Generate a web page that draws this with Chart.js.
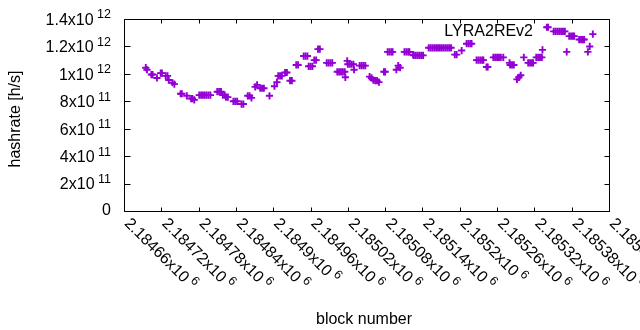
<!DOCTYPE html>
<html><head><meta charset="utf-8">
<script src="https://cdn.jsdelivr.net/npm/chart.js@4/dist/chart.umd.min.js"></script>
<style>html,body{margin:0;padding:0;background:#fff}#c{display:block}</style>
</head><body>
<canvas id="c" width="640" height="330"></canvas>
<script>
// ---- data ----
const seriesName = 'LYRA2REv2';
const blockNumbers = [
  2184695, 2184697, 2184704, 2184706, 2184713, 2184719, 2184721, 2184727, 2184730, 2184732,
  2184738, 2184741, 2184751, 2184753, 2184761, 2184768, 2184770, 2184773,
  2184781, 2184784, 2184787, 2184790, 2184793, 2184796, 2184799,
  2184810, 2184813, 2184816, 2184819, 2184822, 2184824, 2184827,
  2184836, 2184839, 2184842, 2184849, 2184852, 2184859, 2184862, 2184865,
  2184871, 2184874, 2184879, 2184882, 2184885, 2184894, 2184902, 2184906,
  2184908, 2184911, 2184914, 2184919, 2184922, 2184927, 2184930, 2184937, 2184940,
  2184949, 2184952, 2184955, 2184957, 2184960, 2184963, 2184966, 2184969, 2184972, 2184975,
  2184986, 2184989, 2184992, 2184995,
  2185003, 2185006, 2185009, 2185012, 2185015, 2185016,
  2185019, 2185020, 2185023, 2185026, 2185029, 2185030,
  2185039, 2185042, 2185045, 2185048,
  2185055, 2185058, 2185061, 2185064, 2185067, 2185070,
  2185078, 2185080, 2185084, 2185087, 2185090, 2185092,
  2185098, 2185101, 2185104, 2185111, 2185114, 2185117, 2185119,
  2185125, 2185126, 2185129, 2185132, 2185135, 2185138, 2185141,
  2185150, 2185153, 2185156, 2185159, 2185162, 2185165, 2185168, 2185171, 2185174, 2185177, 2185180, 2185183, 2185186,
  2185192, 2185195, 2185203, 2185211, 2185214, 2185217, 2185219,
  2185227, 2185230, 2185233, 2185236, 2185238, 2185243, 2185245,
  2185254, 2185257, 2185260, 2185263, 2185266, 2185270,
  2185280, 2185281, 2185284, 2185287, 2185292, 2185295, 2185298, 2185303,
  2185310, 2185313, 2185316, 2185318, 2185323, 2185326, 2185329, 2185332, 2185333,
  2185340, 2185342, 2185351, 2185354, 2185357, 2185360, 2185363, 2185366, 2185369, 2185372,
  2185376, 2185379, 2185382, 2185384, 2185392, 2185395, 2185398, 2185400,
  2185406, 2185409, 2185414
];
// hashrate in units of 1e11 h/s
const hashrateE11 = [
  10.45, 10.3, 9.95, 9.95, 9.7, 10.05, 10.05, 9.85, 9.85, 9.55,
  9.35, 9.25, 8.55, 8.55, 8.4, 8.2, 8.2, 8.1,
  8.45, 8.45, 8.45, 8.45, 8.45, 8.45, 8.45,
  8.7, 8.7, 8.7, 8.45, 8.45, 8.3, 8.3,
  8.0, 8.0, 8.0, 7.8, 7.8, 8.4, 8.4, 8.25,
  9.05, 9.2, 8.95, 8.95, 8.95, 8.4, 9.1, 9.4,
  9.85, 9.85, 9.85, 10.1, 10.1, 9.5, 9.5, 10.65, 10.65,
  11.3, 11.3, 11.3, 10.55, 10.55, 10.55, 11.0, 11.0, 11.8, 11.8,
  10.8, 10.8, 10.8, 10.8,
  10.15, 10.15, 10.15, 10.15, 10.15, 9.75,
  10.95, 10.7, 10.7, 10.7, 10.7, 10.3,
  10.6, 10.6, 10.6, 10.6,
  9.8, 9.7, 9.55, 9.5, 9.5, 9.4,
  10.15, 10.15, 11.6, 11.6, 11.6, 11.6,
  10.3, 10.6, 10.45, 11.6, 11.6, 11.6, 11.6,
  11.4, 11.35, 11.35, 11.35, 11.35, 11.35, 11.35,
  11.9, 11.9, 11.9, 11.9, 11.9, 11.9, 11.9, 11.9, 11.9, 11.9, 11.9, 11.9, 11.9,
  11.4, 11.4, 11.7, 12.2, 12.2, 12.2, 12.2,
  11.0, 11.0, 11.0, 11.0, 11.0, 10.5, 10.5,
  11.2, 11.2, 11.2, 11.2, 11.2, 11.2,
  10.8, 10.65, 10.65, 10.65, 9.6, 9.75, 9.9, 11.2,
  10.8, 10.8, 10.8, 10.8, 11.2, 11.2, 11.2, 11.2, 11.75,
  13.4, 13.4, 13.1, 13.1, 13.1, 13.1, 13.1, 13.1, 13.1, 11.6,
  12.75, 12.75, 12.75, 12.75, 12.5, 12.5, 12.5, 12.5,
  11.6, 12.0, 12.9
];
const xTickValues = [2184660, 2184720, 2184780, 2184840, 2184900, 2184960, 2185020,
                     2185080, 2185140, 2185200, 2185260, 2185320, 2185380, 2185440];
const xTickMantissa = ['2.18466', '2.18472', '2.18478', '2.18484', '2.1849', '2.18496', '2.18502',
                       '2.18508', '2.18514', '2.1852', '2.18526', '2.18532', '2.18538', '2.18544'];
const xTickExponent = ['6', '6', '6', '6', '6', '6', '6', '6', '6', '6', '6', '6', '6', '6'];
const yTickValues = [0, 2e11, 4e11, 6e11, 8e11, 1e12, 1.2e12, 1.4e12];
const yTickMantissa = ['0', '2', '4', '6', '8', '1', '1.2', '1.4'];
const yTickExponent = ['', '11', '11', '11', '11', '12', '12', '12'];
const xTitle = 'block number';
const yTitle = 'hashrate [h/s]';

const COLOR = '#9400d3';
const FONT = '"Liberation Sans", Arial, sans-serif';
const BASE = 16, SUP = 12.5;

const points = blockNumbers.map((b, i) => ({x: b, y: hashrateE11[i] * 1e11}));

function drawExpLabel(ctx, mant, exp, align) {
  const base = exp ? mant + 'x10' : mant;
  ctx.font = BASE + 'px ' + FONT;
  const wb = ctx.measureText(base).width;
  ctx.font = SUP + 'px ' + FONT;
  const ws = exp ? ctx.measureText(exp).width : 0;
  const gap = exp ? 3.5 : 0;
  const total = wb + gap + ws;
  const x0 = align === 'right' ? -total : 0;
  const dy = exp ? 1.5 : 0;
  ctx.textAlign = 'left';
  ctx.textBaseline = 'middle';
  ctx.font = BASE + 'px ' + FONT;
  ctx.fillText(base, x0, dy);
  if (exp) {
    ctx.font = SUP + 'px ' + FONT;
    ctx.fillText(exp, x0 + wb + gap, dy - 5.5);
  }
}

const frame = {
  id: 'frame',
  afterDraw(chart) {
    const {ctx, chartArea: a, scales: {x, y}} = chart;
    ctx.save();
    ctx.strokeStyle = '#000';
    ctx.lineWidth = 1;
    const L = Math.round(a.left) + 0.5, R = Math.round(a.right) + 0.5;
    const T = Math.round(a.top) + 0.5, B = Math.round(a.bottom) + 0.5;
    ctx.beginPath();
    ctx.rect(L, T, R - L, B - T);
    xTickValues.forEach(v => {
      const px = Math.round(x.getPixelForValue(v)) + 0.5;
      ctx.moveTo(px, B); ctx.lineTo(px, B - 4);
      ctx.moveTo(px, T); ctx.lineTo(px, T + 4);
    });
    yTickValues.forEach(v => {
      const py = Math.round(y.getPixelForValue(v)) + 0.5;
      ctx.moveTo(L, py); ctx.lineTo(L + 6, py);
      ctx.moveTo(R, py); ctx.lineTo(R - 5, py);
    });
    ctx.stroke();

    ctx.fillStyle = '#000';
    yTickValues.forEach((v, i) => {
      const py = y.getPixelForValue(v);
      ctx.save();
      ctx.translate(111, py);
      drawExpLabel(ctx, yTickMantissa[i], yTickExponent[i], 'right');
      ctx.restore();
    });
    xTickValues.forEach((v, i) => {
      const px = x.getPixelForValue(v);
      ctx.save();
      ctx.translate(px + 4, 220);
      ctx.rotate(Math.PI / 4);
      drawExpLabel(ctx, xTickMantissa[i], xTickExponent[i], 'left');
      ctx.restore();
    });
    ctx.font = BASE + 'px ' + FONT;
    ctx.textAlign = 'center';
    ctx.textBaseline = 'middle';
    ctx.fillText(xTitle, 364, 320);
    ctx.save();
    ctx.translate(16, 119);
    ctx.rotate(-Math.PI / 2);
    ctx.fillText(yTitle, 0, 0);
    ctx.restore();
    ctx.textAlign = 'right';
    ctx.fillText(seriesName, 533, 32);
    ctx.restore();
  }
};

new Chart(document.getElementById('c'), {
  type: 'scatter',
  data: {
    datasets: [{
      label: seriesName,
      data: points,
      showLine: false,
      pointStyle: 'cross',
      pointRadius: 3.6,
      pointHoverRadius: 3.6,
      pointBorderWidth: 1.9,
      pointBorderColor: COLOR,
      pointBackgroundColor: COLOR,
      borderColor: COLOR
    }]
  },
  options: {
    responsive: false,
    animation: false,
    devicePixelRatio: 1,
    events: [],
    layout: {padding: {top: 19, right: 31, left: 0, bottom: 0}},
    plugins: {legend: {display: false}, tooltip: {enabled: false}},
    scales: {
      x: {
        type: 'linear', min: 2184660, max: 2185440,
        grid: {display: false}, border: {display: false},
        ticks: {display: false},
        afterFit: s => { s.height = 119; }
      },
      y: {
        min: 0, max: 1.4e12,
        grid: {display: false}, border: {display: false},
        ticks: {display: false},
        afterFit: s => { s.width = 124; }
      }
    }
  },
  plugins: [frame]
});
</script>
</body></html>
